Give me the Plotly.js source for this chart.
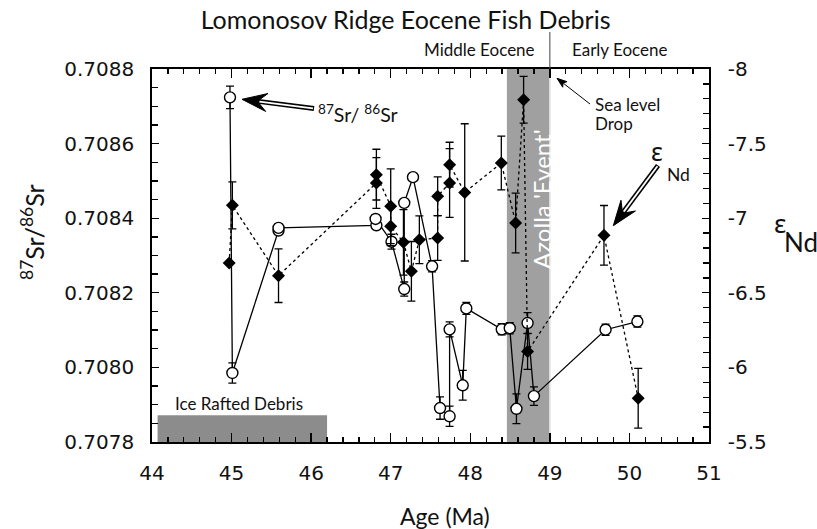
<!DOCTYPE html>
<html><head><meta charset="utf-8">
<script src="https://cdn.plot.ly/plotly-3.0.1.min.js"></script>
<style>html,body{margin:0;padding:0;background:#fff}</style>
</head><body>
<div id="chart" style="width:817px;height:529px"></div>
<script>
// ---- data ----
const srAge = [44.98, 45.01, 45.59, 45.59, 46.82, 46.81, 47.01, 47.17, 47.17, 47.28, 47.52, 47.62, 47.74, 47.74, 47.905, 47.95, 48.395, 48.496, 48.58, 48.72, 48.80, 49.70, 50.10];
const srVal = [0.708724, 0.707985, 0.708367, 0.708374, 0.708381, 0.708398, 0.708337, 0.708210, 0.708441, 0.708510, 0.708271, 0.707891, 0.707869, 0.708102, 0.707952, 0.708158, 0.708102, 0.708105, 0.707889, 0.708119, 0.707923, 0.708101, 0.708123];
const srErr = [0.00003, 0.000027, 0.00001, 0.00001, 0.00001, 0.00001, 0.00002, 0.000019, 0.000006, 0.00001, 0.000015, 0.00003, 0.000027, 0.00002, 0.00004, 0.000016, 0.000015, 0.000015, 0.00004, 0.000028, 0.000025, 0.000015, 0.000015];

const ndAge = [44.97, 45.01, 45.59, 46.82, 46.82, 47.0, 47.0, 47.16, 47.26, 47.36, 47.59, 47.59, 47.74, 47.74, 47.93, 48.39, 48.57, 48.67, 48.72, 49.68, 50.11];
const ndVal = [-6.70, -7.086, -6.615, -7.236, -7.292, -7.08, -6.946, -6.838, -6.644, -6.856, -6.867, -7.147, -7.236, -7.359, -7.173, -7.37, -6.968, -7.794, -6.107, -6.885, -5.793];
const ndErr = [0, 0.157, 0.18, 0.17, 0.17, 0.25, 0.13, 0.22, 0.2, 0.16, 0.15, 0.13, 0.23, 0.15, 0.46, 0.18, 0.2, 0.157, 0.12, 0.2, 0.2];

const xRange = [44, 51];
const srRange = [0.7078, 0.7088];
const ndRange = [-5.5, -8];
const ndTickVals = [-8, -7.5, -7, -6.5, -6, -5.5];
const ndTickText = ['-8', '-7.5', '-7', '-6.5', '-6', '-5.5'];

const azollaBand = [48.46, 49.0];
const irdBand = [44.07, 46.2];
const irdTop = 0.707872;
const epochBoundary = 49.0;

// ---- layout helpers ----
const M = {l: 152, r: 108, t: 69, b: 87};
const W = 817, H = 529;
const PW = W - M.l - M.r, PH = H - M.t - M.b;
function px(x) { return (x - M.l) / PW; }
function py(y) { return (H - M.b - y) / PH; }

const tickFont = {family: 'DejaVu Sans', size: 20, color: '#111'};
const lab = 'Lato';

function txt(text, x, y, size, extra) {
  return Object.assign({xref: 'paper', yref: 'paper', x: px(x), y: py(y), text: text,
    showarrow: false, xanchor: 'center', yanchor: 'middle',
    font: {family: lab, size: size, color: '#111'}}, extra || {});
}

// arrow drawn as shapes (pixel positions converted to paper units)
function arrowShapes(tip, tail, L, w, k, outerW, innerW) {
  let ux = tip[0] - tail[0], uy = tip[1] - tail[1];
  const len = Math.hypot(ux, uy); ux /= len; uy /= len;
  const nx = -uy, ny = ux;
  const B = [tip[0] - k * L * ux, tip[1] - k * L * uy];
  const C1 = [tip[0] - L * ux + w * nx, tip[1] - L * uy + w * ny];
  const C2 = [tip[0] - L * ux - w * nx, tip[1] - L * uy - w * ny];
  const P = p => px(p[0]) + ',' + py(p[1]);
  const out = [
    {type: 'line', xref: 'paper', yref: 'paper', x0: px(tail[0]), y0: py(tail[1]), x1: px(B[0] + ux), y1: py(B[1] + uy),
     line: {color: '#000', width: outerW}}
  ];
  if (innerW > 0) {
    out.push({type: 'line', xref: 'paper', yref: 'paper', x0: px(tail[0] + ux), y0: py(tail[1] + uy), x1: px(B[0] - 2 * ux), y1: py(B[1] - 2 * uy),
      line: {color: '#fff', width: innerW}});
  }
  out.push({type: 'path', xref: 'paper', yref: 'paper', path: 'M' + P(tip) + 'L' + P(C1) + 'L' + P(B) + 'L' + P(C2) + 'Z',
    fillcolor: '#000', line: {color: '#000', width: 1}});
  return out;
}

const traces = [
  {
    x: ndAge, y: ndVal, yaxis: 'y2', type: 'scatter', mode: 'lines+markers',
    line: {color: '#000', width: 1.3, dash: '3px,3px'},
    marker: {symbol: 'diamond', size: 10, color: '#000'},
    error_y: {type: 'data', array: ndErr, visible: true, color: '#000', thickness: 1.3, width: 4},
    hoverinfo: 'skip'
  },
  {
    x: srAge, y: srVal, yaxis: 'y', type: 'scatter', mode: 'lines+markers',
    line: {color: '#000', width: 1.3},
    marker: {symbol: 'circle', size: 11, color: '#fff', line: {color: '#000', width: 1.4}},
    error_y: {type: 'data', array: srErr, visible: true, color: '#000', thickness: 1.3, width: 4},
    hoverinfo: 'skip'
  }
];

const annotations = [
  txt('<sup>87</sup>Sr/ <sup>86</sup>Sr', 316, 114, 19.5, {xanchor: 'left'}),
  txt('ε', 657, 151, 25, {font: {family: 'Noto Sans', size: 25, color: '#111'}}),
  txt('Nd', 678, 174, 17.5),
  txt('Sea level', 593, 105, 17, {xanchor: 'left'}),
  txt('Drop', 593, 123, 17, {xanchor: 'left'}),
  txt('Middle Eocene', 479, 50, 17),
  txt('Early Eocene', 620, 50, 17),
  txt('Ice Rafted Debris', 239, 403, 17),
  txt("Azolla 'Event'", 541, 199, 24, {textangle: -90, font: {family: lab, size: 24, color: '#fff'}}),
  txt('Age (Ma)', 445, 516, 23),
  txt('<sup>87</sup>Sr/<sup>86</sup>Sr', 33, 232, 25, {textangle: -90}),
  txt('ε', 780, 223, 26, {font: {family: 'Noto Sans', size: 26, color: '#111'}}),
  txt('Nd', 801, 242, 26)
];

const shapes = [
  {type: 'rect', xref: 'x', yref: 'paper', x0: azollaBand[0], x1: azollaBand[1], y0: 0, y1: 1,
   fillcolor: '#a0a0a0', line: {width: 0}, layer: 'below'},
  {type: 'line', xref: 'x', yref: 'paper', x0: azollaBand[1], x1: azollaBand[1], y0: 0, y1: 1,
   line: {color: '#e2e2e2', width: 1.5}, layer: 'below'},
  {type: 'rect', xref: 'x', yref: 'y', x0: irdBand[0], x1: irdBand[1], y0: srRange[0], y1: irdTop,
   fillcolor: '#8c8c8c', line: {width: 0}, layer: 'below'},
  {type: 'line', xref: 'x', yref: 'paper', x0: epochBoundary, x1: epochBoundary, y0: 1, y1: py(32),
   line: {color: '#444', width: 1}},
  ...arrowShapes([242, 99.3], [314, 108.5], 25, 9, 0.62, 5, 1.8),
  ...arrowShapes([613.3, 225.7], [658, 165.5], 25, 9, 0.62, 5, 1.8),
  ...arrowShapes([557, 78.3], [590, 104], 10, 3.5, 0.75, 1, 0)
];

const layout = {
  width: W, height: H, margin: M, showlegend: false,
  paper_bgcolor: '#fff', plot_bgcolor: 'rgba(0,0,0,0)',
  title: {text: 'Lomonosov Ridge Eocene Fish Debris', x: 405.6 / W, xref: 'container', xanchor: 'center',
          y: 1 - 20 / H, yref: 'container', yanchor: 'middle', font: {family: lab, size: 25, color: '#111'}},
  xaxis: {range: xRange, tickmode: 'linear', tick0: 44, dtick: 1, ticks: 'inside', ticklen: 9, tickwidth: 1.3,
          tickcolor: '#000', showline: true, linewidth: 1.8, linecolor: '#000', mirror: 'ticks',
          showgrid: false, zeroline: false, tickfont: tickFont, ticklabelstandoff: 12,
          minor: {tick0: 44, dtick: 0.2, ticks: 'inside', ticklen: 5, tickwidth: 1.3, tickcolor: '#000', showgrid: false}},
  yaxis: {range: srRange, tickmode: 'linear', tick0: 0.7078, dtick: 0.0002, tickformat: '.4f', ticks: 'inside',
          ticklen: 7, tickwidth: 1.3, tickcolor: '#000', showline: true, linewidth: 1.8, linecolor: '#000',
          showgrid: false, zeroline: false, tickfont: tickFont, ticklabelstandoff: 12,
          minor: {tick0: 0.7078, dtick: 0.00005, ticks: 'inside', ticklen: 6, tickwidth: 1.3, tickcolor: '#000', showgrid: false}},
  yaxis2: {range: ndRange, overlaying: 'y', side: 'right', tickmode: 'array', tickvals: ndTickVals, ticktext: ndTickText,
           ticks: 'inside', ticklen: 7, tickwidth: 1.3, tickcolor: '#000', showline: true, linewidth: 1.8, linecolor: '#000',
           showgrid: false, zeroline: false, tickfont: tickFont, ticklabelstandoff: 13,
           minor: {tick0: -8, dtick: 0.1, ticks: 'inside', ticklen: 6, tickwidth: 1.3, tickcolor: '#000', showgrid: false}},
  shapes: shapes,
  annotations: annotations
};

Plotly.newPlot('chart', traces, layout, {displayModeBar: false, staticPlot: true});
</script>
</body></html>
